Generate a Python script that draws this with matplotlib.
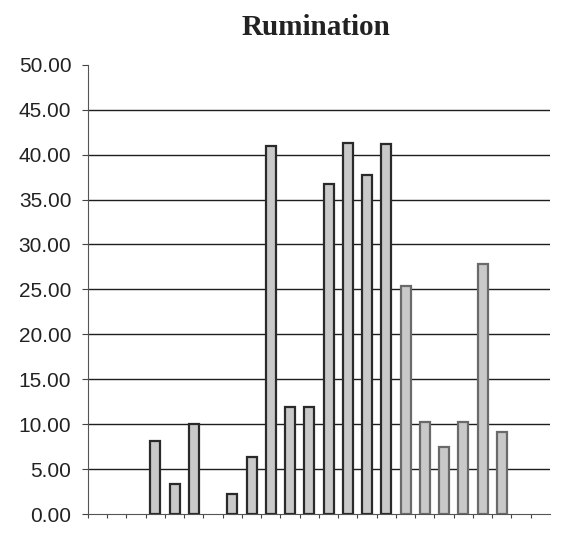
import numpy as np
import matplotlib.pyplot as plt

# rumination values per slot (empty slots are zero)
slots = list(range(1, 25))
rumination = [0.0, 0.0, 0.0, 8.1, 3.3, 10.0, 0.0, 2.2, 6.4, 41.0, 11.9, 11.9,
              36.7, 41.3, 37.7, 41.2, 25.4, 10.2, 7.5, 10.2, 27.8, 9.1, 0.0, 0.0]
y_ticks = [0, 5, 10, 15, 20, 25, 30, 35, 40, 45, 50]

fig = plt.figure(figsize=(5.64, 5.35), dpi=100)
ax = fig.add_axes([0.156, 0.039, 0.819, 0.840])

x = np.arange(len(slots))
edges = ['#2a2a2a'] * 16 + ['#6a6a6a'] * 8
bars = ax.bar(x, rumination, width=0.52, color='#c9c9c9', edgecolor=edges,
              linewidth=1.6, zorder=3)
for b, v in zip(bars, rumination):
    if v == 0:
        b.set_visible(False)

ax.set_xlim(-0.5, len(slots) - 0.5)
ax.set_ylim(0, 50)
ax.set_yticks(y_ticks)
ax.set_yticklabels(['%.2f' % t for t in y_ticks], fontsize=15,
                   fontfamily='Liberation Sans', color='#222')
ax.set_xticks(x - 0.5, minor=True)
ax.set_xticks([])
ax.tick_params(axis='x', which='minor', length=3, width=0.8, color='#444')
ax.tick_params(axis='y', length=4, width=0.8, color='#444', pad=8)

# horizontal gridlines, none at the top value
for t in y_ticks[1:-1]:
    ax.axhline(t, color='#1e1e1e', linewidth=1.0, zorder=0)
for s in ['top', 'right']:
    ax.spines[s].set_visible(False)
ax.spines['left'].set_color('#555')
ax.spines['bottom'].set_color('#555')

fig.text(0.56, 0.948, 'Rumination', ha='center', va='center', fontsize=21,
         fontweight='bold', fontfamily='Liberation Serif', color='#222')

fig.savefig('out.png', dpi=100)
